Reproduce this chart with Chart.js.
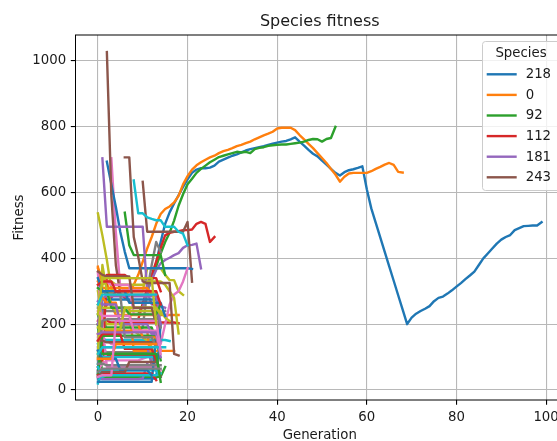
<!DOCTYPE html>
<html>
<head>
<meta charset="utf-8">
<script src="https://cdn.jsdelivr.net/npm/chart.js@4.4.1/dist/chart.umd.min.js"></script>
<style>
  html, body { margin: 0; padding: 0; overflow: hidden; background: #ffffff; }
  #wrap { width: 600px; height: 441px; }
</style>
</head>
<body>
<div id="wrap"><canvas id="c" width="600" height="441"></canvas></div>
<script>
// Axis ticks
const xTicks = [0, 20, 40, 60, 80, 100];
const yTicks = [0, 200, 400, 600, 800, 1000];

// Species shown in the legend (first generation each one appears, best fitness per generation)
const legendIds = ['218', '0', '92', '112', '181', '243'];

const start218 = 12;
const fit218 = [
  330, 385, 450, 505, 540, 567, 592, 617, 640, 660, 670, 674, 674, 676, 682, 694, 700, 706,
  712, 716, 722, 728, 732, 735, 738, 741, 745, 749, 752, 755, 757, 762, 768, 755, 743, 730,
  718, 710, 697, 685, 672, 660, 652, 662, 668, 671, 675, 680, 610, 552, 508, 464, 420, 376,
  332, 288, 244, 200, 220, 232, 240, 247, 255, 270, 280, 284, 293, 303, 314, 325, 337, 348,
  360, 380, 400, 415, 430, 445, 457, 465, 471, 486, 492, 498, 499, 500, 500, 510
];

const start0 = 0;
const fit0 = [
  375, 300, 295, 295, 290, 290, 290, 300, 320, 350, 390, 430, 465, 505, 535, 550, 558, 570,
  590, 625, 650, 670, 683, 692, 700, 707, 712, 720, 726, 730, 735, 741, 745, 750, 755, 762,
  768, 774, 779, 785, 795, 797, 797, 797, 790, 775, 762, 748, 735, 720, 705, 690, 672, 655,
  633, 648, 658, 660, 660, 660, 660, 665, 672, 678, 685, 690, 684, 663, 661
];

const start92 = 9;
const fit92 = [
  230, 260, 300, 335, 375, 415, 450, 478, 515, 560, 595, 625, 642, 660, 672, 682, 692, 700,
  708, 712, 716, 720, 724, 722, 724, 720, 732, 736, 738, 742, 744, 745, 746, 746, 748, 750,
  752, 755, 760, 763, 762, 755, 763, 766, 800
];

const start112 = 8;
const fit112 = [200, 215, 260, 310, 350, 390, 432, 470, 478, 481, 483, 486, 486, 488, 505, 511, 505, 450, 465];

const start181 = 10;
const fit181 = [250, 300, 335, 365, 385, 395, 402, 410, 416, 432, 440, 441, 445, 370];

const start243 = 10;
const fit243 = [633, 481, 481, 481, 481, 481, 481, 481, 481, 481, 511, 329];

// Remaining short-lived species: first generation and best fitness per generation
const otherStarts = [
  3, 0, 0, 8, 2, 0, 6, 0, 1, 2,
  0, 0, 0, 0, 0, 7, 0, 0, 0, 6,
  0, 0, 0, 0, 0, 0, 0, 1, 0, 0,
  0, 0, 0, 0, 0, 0, 0, 0, 0, 0,
  1, 0, 0, 0,
  0, 1, 0, 0, 0, 0, 0, 1, 0, 0,
  0, 0, 1, 0, 0, 0, 0, 0, 0, 0
];
const otherFitness = [
  [704, 480, 310, 305, 305, 305, 305, 305, 305, 300, 300, 230],
  [250, 250, 175, 175, 175, 175, 175, 175, 180, 180, 190, 300, 380, 450, 420],
  [537, 470, 395, 305, 300, 300, 300, 300, 300, 300, 300, 370, 370, 370, 370, 350, 334, 334, 300, 289],
  [637, 537, 537, 525, 520, 516, 516, 496, 496, 496, 481, 475, 440],
  [694, 625, 557, 480, 420, 370, 370, 370, 370, 370, 370, 370, 370, 370, 370, 370, 370, 370, 370, 368],
  [370, 340, 330, 260, 228, 228, 228, 228, 228, 228, 228, 228, 228, 228, 228, 228, 228, 228, 228],
  [539, 440, 410, 410, 410, 410, 410, 410, 410, 350],
  [200, 215, 210, 205, 205, 205, 205, 205, 205, 205, 205, 205, 205, 205, 205, 205, 205, 205, 203],
  [704, 496, 496, 496, 496, 496, 496, 496, 496, 496, 300, 260, 260, 255, 250],
  [1027, 590, 380, 290, 290, 290, 290, 290, 290, 290, 290, 290, 150],
  [160, 160, 150, 140, 140, 140, 140, 140, 140, 140, 140, 140, 140, 140, 140, 200, 260, 290, 300, 330, 370],
  [45, 120, 115, 115, 115, 115, 115, 115, 115, 115, 115, 115, 115, 60],
  [100, 320, 330, 330, 320, 320, 320, 320, 320, 320, 320, 330, 330, 330, 330, 320, 300, 280, 172],
  [80, 150, 152, 152, 152, 152, 152, 152, 152, 152, 152, 152, 152, 152, 152, 152, 149],
  [35, 35, 35, 35, 35, 35, 35, 35, 35, 35, 35, 35, 35, 35, 200],
  [250, 119, 119, 119, 119, 119, 119, 119, 119, 119, 119],
  [200, 40, 40, 40, 40, 40, 40, 40, 40, 40, 40, 40, 40, 40, 40, 70],
  [210, 230, 260, 280, 300, 290, 280, 270, 265, 265, 265, 265, 265, 255],
  [60, 33, 33, 33, 33, 33, 33, 33, 33, 33, 35, 80],
  [707, 707, 465, 405, 330, 325, 325, 325, 325, 325, 325, 110, 105],
  [60, 80, 90, 90, 90, 90, 90, 90, 90, 90, 95, 100, 100, 100],
  [120, 240, 240, 240, 240, 240, 240, 240, 240, 240, 240, 240, 240, 240, 190],
  [300, 230, 200, 200, 200, 200, 200, 200, 180, 170, 160, 150, 130, 90],
  [20, 60, 60, 60, 60, 60, 60, 60, 60, 60, 60, 60, 60, 60, 40],
  [50, 275, 275, 275, 275, 275, 275, 275, 275, 275, 275, 275, 275, 275],
  [170, 170, 180, 180, 180, 180, 180, 180, 180, 180, 180, 180, 70],
  [230, 185, 190, 190, 190, 190, 190, 190, 190, 190, 190, 190, 190, 150],
  [90, 350, 350, 350, 350, 350, 340, 340, 340, 340, 340, 340, 340, 300],
  [130, 130, 130, 130, 130, 130, 130, 130, 130, 130, 130, 130, 80],
  [70, 110, 105, 105, 105, 105, 105, 105, 105, 105, 105, 105, 105, 105, 40],
  [355, 200, 70, 70, 70, 70, 70, 70, 70, 70, 70, 70, 70, 70, 60],
  [90, 210, 215, 215, 215, 215, 215, 215, 215, 215, 215, 215, 215, 215, 230, 240],
  [260, 250, 250, 250, 250, 250, 250, 250, 250, 250, 250, 250, 250, 250],
  [140, 100, 100, 100, 100, 100, 100, 100, 100, 100, 100, 100, 100],
  [25, 25, 25, 25, 25, 25, 25, 25, 25, 25, 25, 25, 25, 160],
  [330, 310, 310, 310, 310, 310, 310, 310, 310, 310, 310, 310, 290],
  [50, 165, 165, 165, 165, 165, 165, 165, 165, 165, 165, 165, 165, 165, 90],
  [45, 50, 50, 50, 50, 50, 50, 50, 50, 50, 50, 50, 50, 30],
  [200, 280, 285, 285, 285, 285, 285, 285, 285, 285, 285, 285, 285, 285, 200],
  [150, 150, 145, 145, 145, 145, 145, 145, 145, 145, 145, 145, 145, 145],
  [330, 330, 320, 320, 320, 320, 320, 230, 230, 230, 230, 230, 230],
  [80, 80, 75, 75, 75, 75, 75, 75, 75, 75, 75, 75, 75, 75, 75],
  [110, 380, 300, 260, 240, 240, 240, 240, 240, 240, 240, 240, 240, 240, 240, 220, 210],
  [70, 40, 45, 45, 45, 45, 45, 45, 45, 45, 45, 45, 45, 45, 50],
  [120, 95, 95, 95, 95, 60, 60, 60, 60, 60, 60, 60, 45],
  [280, 265, 265, 265, 200, 200, 200, 200, 200, 160, 160, 160, 160, 120],
  [310, 300, 300, 250, 250, 250, 250, 230, 230, 230, 230, 230, 230, 230, 260],
  [150, 170, 170, 170, 170, 170, 125, 125, 125, 125, 125, 125, 125, 90],
  [270, 260, 260, 260, 260, 200, 200, 200, 200, 200, 200, 200, 170, 170, 100],
  [40, 55, 55, 55, 55, 55, 55, 85, 85, 85, 85, 85, 85, 85],
  [240, 225, 225, 225, 225, 225, 225, 225, 180, 180, 180, 180, 180, 180, 110],
  [300, 290, 290, 290, 290, 160, 160, 160, 160, 160, 160, 160, 130],
  [190, 185, 185, 185, 185, 185, 250, 250, 250, 250, 250, 250, 250, 250, 230],
  [110, 130, 130, 130, 130, 130, 130, 130, 130, 130, 130, 130, 130, 130, 130, 130],
  [340, 300, 300, 300, 300, 300, 300, 265, 265, 265, 265, 265, 265, 265, 265, 225],
  [95, 95, 95, 95, 140, 140, 140, 140, 140, 140, 140, 140, 140, 140],
  [110, 110, 110, 110, 110, 110, 110, 110, 110, 110, 110, 110, 110, 25],
  [320, 330, 330, 330, 300, 300, 300, 300, 300, 300, 300, 300, 300, 300, 260],
  [170, 175, 175, 175, 175, 175, 175, 175, 175, 175, 175, 175, 175, 175, 150],
  [360, 350, 345, 345, 345, 345, 345, 345, 250, 250, 250, 250, 250, 200],
  [40, 45, 45, 45, 210, 210, 210, 210, 210, 210, 210, 210, 210, 210, 120],
  [55, 65, 65, 65, 65, 65, 65, 65, 65, 65, 65, 65, 65, 65, 65],
  [230, 340, 340, 340, 340, 340, 340, 340, 340, 340, 340, 340, 340, 200],
  [260, 290, 290, 290, 290, 290, 290, 290, 290, 290, 290, 290, 290, 290]
];

const palette = ['#1f77b4', '#ff7f0e', '#2ca02c', '#d62728', '#9467bd',
                 '#8c564b', '#e377c2', '#7f7f7f', '#bcbd22', '#17becf'];

const FONT = "'DejaVu Sans', sans-serif";
const TEXT = '#1a1a1a';

function toPoints(start, values) {
  return values.map((v, i) => ({ x: start + i, y: v }));
}

const series = [
  [start218, fit218], [start0, fit0], [start92, fit92],
  [start112, fit112], [start181, fit181], [start243, fit243]
].concat(otherStarts.map((s, i) => [s, otherFitness[i]]));

const datasets = series.map(([s, vals], i) => ({
  label: i < legendIds.length ? legendIds[i] : 'species ' + i,
  data: toPoints(s, vals),
  borderColor: palette[i % 10],
  backgroundColor: palette[i % 10],
  borderWidth: 2.4,
  borderJoinStyle: 'round',
  borderCapStyle: 'square',
  pointRadius: 0,
  pointHoverRadius: 0,
  tension: 0,
  fill: false,
  order: -i
}));

// Box around the plotting area
const frame = {
  id: 'frame',
  afterDatasetsDraw(chart) {
    const { ctx, chartArea: a } = chart;
    ctx.save();
    ctx.strokeStyle = '#000000';
    ctx.lineWidth = 1;
    ctx.strokeRect(a.left, a.top, a.right - a.left, a.bottom - a.top);
    ctx.restore();
  }
};

// Legend with title, drawn in the upper right corner of the plot
const speciesLegend = {
  id: 'speciesLegend',
  afterDraw(chart) {
    const { ctx, chartArea: a } = chart;
    const left = a.right - 82, top = a.top + 6, w = 78, h = 149;
    ctx.save();
    ctx.beginPath();
    ctx.roundRect(left + 0.5, top + 0.5, w, h, 3);
    ctx.fillStyle = 'rgba(255,255,255,0.8)';
    ctx.fill();
    ctx.strokeStyle = '#cccccc';
    ctx.lineWidth = 1;
    ctx.stroke();
    ctx.font = '13.3px ' + FONT;
    ctx.fillStyle = TEXT;
    ctx.textBaseline = 'middle';
    ctx.textAlign = 'center';
    ctx.fillText('Species', left + w / 2, top + 12.5);
    ctx.textAlign = 'left';
    legendIds.forEach((id, i) => {
      const y = top + 33.3 + i * 20.6;
      ctx.beginPath();
      ctx.moveTo(left + 4.7, y);
      ctx.lineTo(left + 34.7, y);
      ctx.strokeStyle = palette[i];
      ctx.lineWidth = 2.4;
      ctx.stroke();
      ctx.fillStyle = TEXT;
      ctx.fillText(id, left + 43.7, y + 0.5);
    });
    ctx.restore();
  }
};

new Chart(document.getElementById('c'), {
  type: 'line',
  data: { datasets },
  plugins: [frame, speciesLegend],
  options: {
    responsive: false,
    animation: false,
    devicePixelRatio: 1,
    layout: { padding: { left: 0, right: 36, top: 0, bottom: 0 } },
    plugins: {
      legend: { display: false },
      tooltip: { enabled: false },
      title: {
        display: true,
        text: 'Species fitness',
        fullSize: false,
        color: TEXT,
        font: { family: FONT, size: 16, weight: 'normal', lineHeight: 1 },
        padding: { top: 13.5, bottom: 5.5 }
      }
    },
    scales: {
      x: {
        type: 'linear',
        min: -5,
        max: 104,
        afterBuildTicks: (s) => { s.ticks = xTicks.map(v => ({ value: v })); },
        afterFit: (s) => { s.height = 41; },
        grid: { color: '#b8b8b8', lineWidth: 1.1, tickColor: '#000000', tickLength: 4.7, drawTicks: true },
        border: { display: false },
        ticks: {
          autoSkip: false, maxRotation: 0, padding: 5.3, color: TEXT,
          font: { family: FONT, size: 13.3 },
          callback: (v) => String(v)
        },
        title: {
          display: true, text: 'Generation', color: TEXT,
          font: { family: FONT, size: 13.3, lineHeight: 0.7 },
          padding: { top: 0, bottom: 1 }
        }
      },
      y: {
        type: 'linear',
        min: -30.4,
        max: 1079,
        afterBuildTicks: (s) => { s.ticks = yTicks.map(v => ({ value: v })); },
        afterFit: (s) => { s.width = 75.5; },
        grid: { color: '#b8b8b8', lineWidth: 1.1, tickColor: '#000000', tickLength: 4.7, drawTicks: true },
        border: { display: false },
        ticks: {
          autoSkip: false, padding: 4.7, color: TEXT,
          font: { family: FONT, size: 13.3 },
          callback: (v) => String(v)
        },
        title: {
          display: true, text: 'Fitness', color: TEXT,
          font: { family: FONT, size: 13.3, lineHeight: 0.7 },
          padding: { top: 14.8, bottom: 0 }
        }
      }
    }
  }
});
</script>
</body>
</html>
